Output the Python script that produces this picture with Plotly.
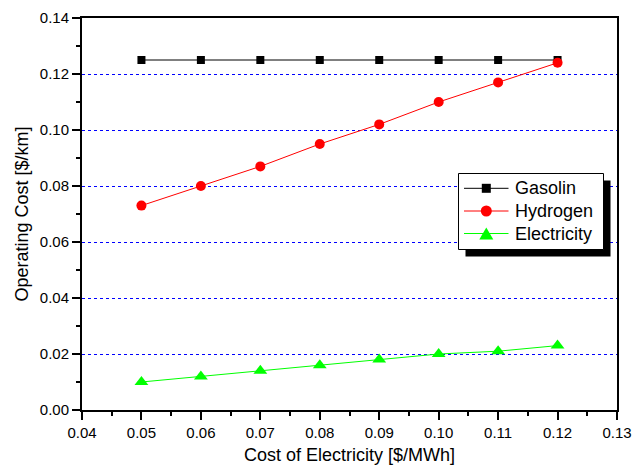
import plotly.graph_objects as go

x_cost = [0.05, 0.06, 0.07, 0.08, 0.09, 0.10, 0.11, 0.12]
gasolin = [0.125, 0.125, 0.125, 0.125, 0.125, 0.125, 0.125, 0.125]
hydrogen = [0.073, 0.080, 0.087, 0.095, 0.102, 0.110, 0.117, 0.124]
electricity = [0.010, 0.012, 0.014, 0.016, 0.018, 0.020, 0.021, 0.023]

series_names = ["Gasolin", "Hydrogen", "Electricity"]
series_colors = ["#000000", "#ff0000", "#00ff00"]

x_ticks = [0.04, 0.05, 0.06, 0.07, 0.08, 0.09, 0.10, 0.11, 0.12, 0.13]
x_tick_labels = ["0.04", "0.05", "0.06", "0.07", "0.08", "0.09", "0.10", "0.11", "0.12", "0.13"]
y_ticks = [0.00, 0.02, 0.04, 0.06, 0.08, 0.10, 0.12, 0.14]
y_tick_labels = ["0.00", "0.02", "0.04", "0.06", "0.08", "0.10", "0.12", "0.14"]

FONT = "Liberation Sans, Arial, sans-serif"
W, H = 632, 472
ML, MR, MT, MB = 82, 15, 18, 62
PW, PH = W - ML - MR, H - MT - MB

def px(x):
    return (x - ML) / PW

def py(y):
    return (H - MB - y) / PH

fig = go.Figure()
fig.add_trace(go.Scatter(x=x_cost, y=gasolin, name=series_names[0], mode="lines+markers",
                         line=dict(color=series_colors[0], width=1),
                         marker=dict(symbol="square", size=8, color=series_colors[0])))
fig.add_trace(go.Scatter(x=x_cost, y=hydrogen, name=series_names[1], mode="lines+markers",
                         line=dict(color=series_colors[1], width=1),
                         marker=dict(symbol="circle", size=10, color=series_colors[1])))
fig.add_trace(go.Scatter(x=x_cost, y=electricity, name=series_names[2], mode="lines+markers",
                         line=dict(color=series_colors[2], width=1),
                         marker=dict(symbol="triangle-up", size=12, color=series_colors[2])))

fig.update_layout(
    width=W, height=H,
    margin=dict(l=ML, r=MR, t=MT, b=MB, autoexpand=False),
    plot_bgcolor="white", paper_bgcolor="white",
    font=dict(family=FONT, size=15, color="black"),
    showlegend=False,
    xaxis=dict(range=[0.04, 0.13], tickvals=x_ticks, ticktext=x_tick_labels,
               ticks="outside", ticklen=8, tickwidth=1.5, tickcolor="black",
               showline=True, linecolor="black", linewidth=2, mirror=True,
               showgrid=False, zeroline=False, automargin=False,
               minor=dict(dtick=0.005, ticks="outside", ticklen=4, tickcolor="black", showgrid=False),
               tickfont=dict(size=15),
               title=dict(text="Cost of Electricity [$/MWh]", font=dict(size=18), standoff=8)),
    yaxis=dict(range=[0.0, 0.14], tickvals=y_ticks, ticktext=y_tick_labels,
               ticks="outside", ticklen=8, tickwidth=1.5, tickcolor="black",
               showline=True, linecolor="black", linewidth=2, mirror=True,
               showgrid=True, gridcolor="#0000ff", griddash="dot", gridwidth=1,
               zeroline=False, automargin=False,
               minor=dict(dtick=0.01, ticks="outside", ticklen=4, tickcolor="black", showgrid=False),
               tickfont=dict(size=15),
               title=dict(text="Operating Cost [$/km]", font=dict(size=18), standoff=6)),
)

# ---- manual legend with drop shadow ----
box_l, box_r, box_t, box_b = 458.5, 603.5, 173.5, 249.5
shadow = 7
fig.add_shape(type="rect", xref="paper", yref="paper",
              x0=px(box_l + shadow), x1=px(box_r + shadow),
              y0=py(box_b + shadow), y1=py(box_t + shadow),
              fillcolor="black", line=dict(width=0), layer="above")
fig.add_shape(type="rect", xref="paper", yref="paper",
              x0=px(box_l), x1=px(box_r), y0=py(box_b), y1=py(box_t),
              fillcolor="white", line=dict(color="black", width=1), layer="above")

row_y = [188.3, 211.0, 233.5]
line_x0, line_x1, mark_x, text_x = 464, 508.5, 486.3, 514
for name, col, yy, kind in zip(series_names, series_colors, row_y, ["square", "circle", "triangle"]):
    fig.add_shape(type="line", xref="paper", yref="paper",
                  x0=px(line_x0), x1=px(line_x1), y0=py(yy), y1=py(yy),
                  line=dict(color=col, width=1), layer="above")
    if kind == "square":
        s = 4.5
        fig.add_shape(type="rect", xref="paper", yref="paper",
                      x0=px(mark_x - s), x1=px(mark_x + s), y0=py(yy + s), y1=py(yy - s),
                      fillcolor=col, line=dict(width=0), layer="above")
    elif kind == "circle":
        r = 5.5
        fig.add_shape(type="circle", xref="paper", yref="paper",
                      x0=px(mark_x - r), x1=px(mark_x + r), y0=py(yy + r), y1=py(yy - r),
                      fillcolor=col, line=dict(width=0), layer="above")
    else:
        hw, ht = 7, 6
        path = "M {:.5f},{:.5f} L {:.5f},{:.5f} L {:.5f},{:.5f} Z".format(
            px(mark_x - hw), py(yy + ht), px(mark_x + hw), py(yy + ht), px(mark_x), py(yy - ht))
        fig.add_shape(type="path", xref="paper", yref="paper", path=path,
                      fillcolor=col, line=dict(width=0), layer="above")
    fig.add_annotation(xref="paper", yref="paper", x=px(text_x), y=py(yy),
                       xanchor="left", yanchor="middle", text=name, showarrow=False,
                       font=dict(size=18, family=FONT, color="black"), borderpad=0)

fig.write_html("out.html", config={"displayModeBar": False},
               post_script="document.body.style.margin='0px';")
